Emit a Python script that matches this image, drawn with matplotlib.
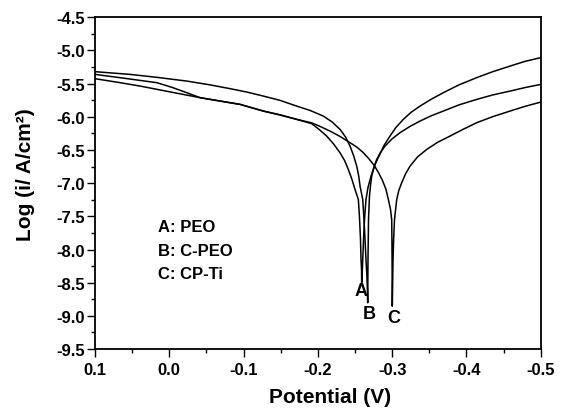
# Tafel polarization curves (PEO / C-PEO / CP-Ti)
import matplotlib
matplotlib.use("Agg")
import matplotlib.pyplot as plt
from matplotlib.ticker import MultipleLocator, FormatStrFormatter

# potential (V) and log(i / A/cm2)
# (cathodic branch from +0.1 V down to the dip, then the anodic branch)
e_a = [0.100, 0.0596, 0.0169, -0.0037, -0.0235, -0.0414, -0.0683, -0.0952,
       -0.1266, -0.1491, -0.1715, -0.1917, -0.2016, -0.2119, -0.2211, -0.2298,
       -0.2359, -0.2410, -0.2457, -0.2500, -0.2527, -0.2545, -0.2554, -0.2562,
       -0.2574, -0.2581, -0.2588, -0.2590,
       -0.2599, -0.2615, -0.2628, -0.2648, -0.2675, -0.2716, -0.2763, -0.2823,
       -0.2891, -0.2971, -0.3052, -0.3151, -0.3254, -0.3375, -0.3523, -0.3689,
       -0.3900, -0.4139, -0.4358, -0.4587, -0.4789, -0.500]
log_a = [-5.360, -5.420, -5.485, -5.556, -5.636, -5.711, -5.762, -5.812,
         -5.913, -5.971, -6.038, -6.103, -6.189, -6.290, -6.408, -6.541,
         -6.657, -6.793, -6.936, -7.094, -7.185, -7.245, -7.396, -7.547,
         -7.848, -8.150, -8.301, -8.502,
         -8.301, -7.848, -7.547, -7.245, -7.064, -6.894, -6.732, -6.592,
         -6.431, -6.290, -6.159, -6.038, -5.933, -5.838, -5.737, -5.636,
         -5.518, -5.409, -5.318, -5.235, -5.164, -5.108]

e_b = [0.100, 0.0798, 0.0529, 0.0165, -0.0235, -0.0548, -0.0817, -0.1046,
       -0.1266, -0.1491, -0.1715, -0.1894, -0.2074, -0.2191, -0.2298, -0.2372,
       -0.2433, -0.2480, -0.2523, -0.2550, -0.2568, -0.2604, -0.2613, -0.2621,
       -0.2635, -0.2648, -0.2659, -0.2667, -0.2671,
       -0.2675, -0.2682, -0.2695, -0.2709, -0.2725, -0.2756, -0.2792, -0.2844,
       -0.2904, -0.2998, -0.3106, -0.3241, -0.3375, -0.3523, -0.3689, -0.3900,
       -0.4139, -0.4358, -0.4587, -0.4789, -0.500]
log_b = [-5.319, -5.337, -5.360, -5.405, -5.461, -5.518, -5.575, -5.627,
         -5.687, -5.752, -5.838, -5.903, -5.989, -6.076, -6.189, -6.302,
         -6.441, -6.581, -6.743, -6.891, -7.044, -7.245, -7.396, -7.547,
         -7.848, -8.150, -8.376, -8.603, -8.803,
         -8.150, -7.547, -7.195, -7.034, -6.894, -6.762, -6.642, -6.536,
         -6.441, -6.333, -6.239, -6.144, -6.064, -5.986, -5.913, -5.820,
         -5.737, -5.669, -5.612, -5.559, -5.511]

e_c = [0.100, 0.069, 0.0394, -0.0010, -0.0414, -0.0683, -0.0952, -0.1266,
       -0.1491, -0.1715, -0.1917, -0.2029, -0.2164, -0.2298, -0.2433, -0.2527,
       -0.2608, -0.2689, -0.2763, -0.2817, -0.2870, -0.2917, -0.2949, -0.2978,
       -0.2994, -0.2997, -0.2999, -0.3002,
       -0.3012, -0.3020, -0.3032, -0.3062, -0.3090, -0.3129, -0.3180, -0.3241,
       -0.3342, -0.3466, -0.3611, -0.3779, -0.3954, -0.4139, -0.4358, -0.4587,
       -0.4789, -0.500]
log_c = [-5.425, -5.480, -5.536, -5.624, -5.711, -5.762, -5.812, -5.913,
         -5.971, -6.038, -6.091, -6.144, -6.215, -6.295, -6.390, -6.458,
         -6.536, -6.634, -6.740, -6.842, -6.959, -7.094, -7.245, -7.396,
         -7.547, -7.848, -8.150, -8.854,
         -8.150, -7.848, -7.547, -7.245, -7.109, -6.993, -6.860, -6.743,
         -6.604, -6.491, -6.385, -6.290, -6.189, -6.088, -5.996, -5.913,
         -5.842, -5.778]

legend_lines = ["A: PEO", "B: C-PEO", "C: CP-Ti"]
curve_tags = ["A", "B", "C"]
tag_pos = [(-0.2578, -8.615), (-0.2698, -8.965), (-0.3021, -9.03)]

plt.rcParams['font.family'] = ['Liberation Sans', 'DejaVu Sans']
plt.rcParams['font.weight'] = 'bold'
plt.rcParams['axes.unicode_minus'] = False

fig = plt.figure(figsize=(5.67, 4.10), dpi=100)
ax = fig.add_axes([0.1676, 0.1463, 0.786, 0.809])

for e, lg in [(e_a, log_a), (e_b, log_b), (e_c, log_c)]:
    ax.plot(e, lg, color='black', lw=1.1)

ax.set_xlim(0.1, -0.5)
ax.set_ylim(-9.5, -4.5)
ax.xaxis.set_major_locator(MultipleLocator(0.1))
ax.xaxis.set_minor_locator(MultipleLocator(0.05))
ax.yaxis.set_major_locator(MultipleLocator(0.5))
ax.yaxis.set_minor_locator(MultipleLocator(0.25))
ax.xaxis.set_major_formatter(FormatStrFormatter('%.1f'))
ax.yaxis.set_major_formatter(FormatStrFormatter('%.1f'))
ax.tick_params(which='both', direction='out', top=False, right=False, width=1)
ax.tick_params(which='major', length=5.5, labelsize=12)
ax.tick_params(which='minor', length=3)
ax.tick_params(axis='x', pad=4)
ax.tick_params(axis='y', pad=1.5)
for sp in ax.spines.values():
    sp.set_linewidth(1.3)

ax.set_xlabel('Potential (V)', fontsize=15, fontweight='bold')
ax.set_ylabel('Log (i/ A/cm²)', fontsize=15, fontweight='bold')
ax.xaxis.set_label_coords(0.527, -0.142)
ax.xaxis.label.set_va('center')
ax.yaxis.set_label_coords(-0.156, 0.53)
ax.yaxis.label.set_va('center')

for i, txt in enumerate(legend_lines):
    ax.text(0.0152, -7.66 - 0.35 * i, txt, fontsize=12, fontweight='bold',
            ha='left', va='center')

for tag, (x, y) in zip(curve_tags, tag_pos):
    ax.text(x, y, tag, fontsize=13, fontweight='bold', ha='center', va='center')

fig.savefig('out.png', dpi=100)
